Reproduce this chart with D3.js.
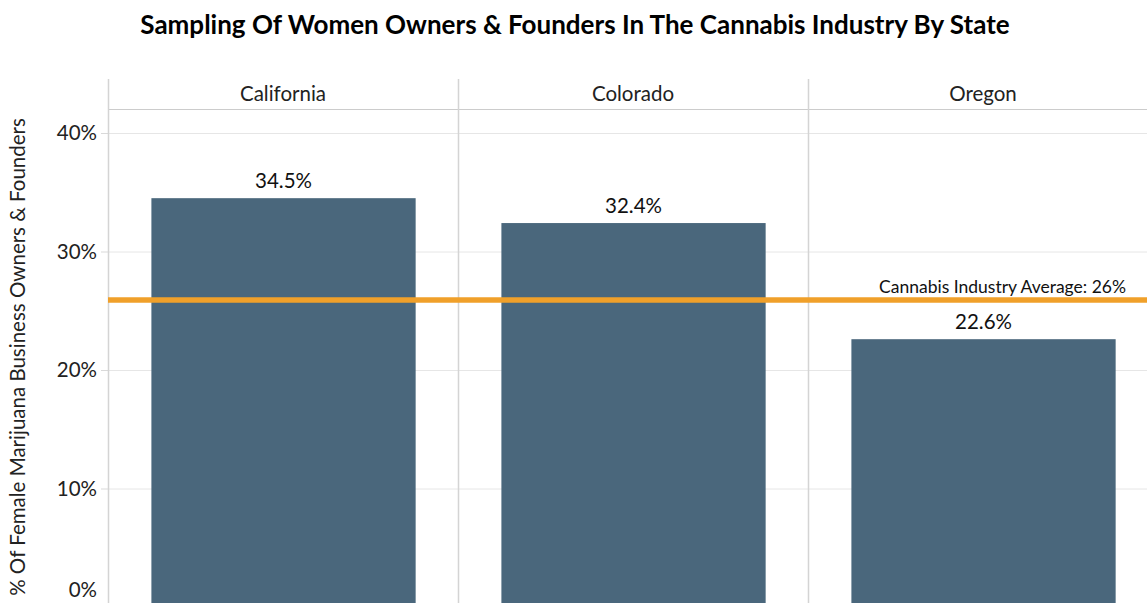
<!DOCTYPE html>
<html>
<head>
<meta charset="utf-8">
<script src="https://cdn.jsdelivr.net/npm/d3@7"></script>
<style>
  body { margin: 0; background: #fff; }
  svg { display: block; font-family: Lato, "Open Sans", sans-serif; }
</style>
</head>
<body>
<svg id="chart" width="1147" height="603"></svg>
<script>
const states = ["California", "Colorado", "Oregon"];
const shares = [34.5, 32.4, 22.6];
const yTicks = [0, 10, 20, 30, 40];
const industryAverage = 26;
const averageLabel = "Cannabis Industry Average: 26%";

const chartWidth = 1147;
const chartHeight = 603;
const plotLeft = 108;
const plotTop = 133;
const headerTop = 79;
const headerBottom = 110;
const plotBottom = 607;

const svg = d3.select("#chart");

const x = d3.scaleBand().domain(states).range([plotLeft, plotLeft + 350 * 3]).padding(0);
const y = d3.scaleLinear().domain([0, 40]).range([plotBottom, plotTop]);
const barPad = x.bandwidth() * 0.124;
const barWidth = x.bandwidth() * 0.755;

// title
svg.append("text")
  .attr("x", 575).attr("y", 34)
  .attr("text-anchor", "middle")
  .attr("font-size", 26).attr("font-weight", "bold")
  .attr("fill", "#000")
  .text("Sampling Of Women Owners & Founders In The Cannabis Industry By State");

// gridlines
svg.append("g").selectAll("line").data(yTicks.filter((t) => t > 0)).enter().append("line")
  .attr("x1", plotLeft).attr("x2", chartWidth)
  .attr("y1", (d) => y(d) + 0.5).attr("y2", (d) => y(d) + 0.5)
  .attr("stroke", "#e6e6e6").attr("stroke-width", 1);

// y axis ticks and labels (bottom label kept inside the frame)
svg.append("g").selectAll("line").data(yTicks).enter().append("line")
  .attr("x1", plotLeft - 7).attr("x2", plotLeft)
  .attr("y1", (d) => y(d) + 0.5).attr("y2", (d) => y(d) + 0.5)
  .attr("stroke", "#d9d9d9");
svg.append("g").selectAll("text").data(yTicks).enter().append("text")
  .attr("x", plotLeft - 11).attr("y", (d) => Math.min(y(d) + 7, chartHeight - 6))
  .attr("text-anchor", "end").attr("font-size", 20.5).attr("fill", "#222")
  .text((d) => `${d}%`);

svg.append("text")
  .attr("transform", `translate(25,${357}) rotate(-90)`)
  .attr("text-anchor", "middle").attr("font-size", 20.5).attr("fill", "#222")
  .text("% Of Female Marijuana Business Owners & Founders");

// header row
svg.append("line").attr("x1", plotLeft).attr("x2", chartWidth)
  .attr("y1", headerBottom - 0.5).attr("y2", headerBottom - 0.5)
  .attr("stroke", "#cccccc");
svg.append("g").selectAll("text").data(states).enter().append("text")
  .attr("x", (d) => x(d) + x.bandwidth() / 2).attr("y", 101)
  .attr("text-anchor", "middle").attr("font-size", 20.5).attr("fill", "#222")
  .text((d) => d);

// panel dividers
svg.append("g").selectAll("line").data(states).enter().append("line")
  .attr("x1", (d) => x(d) + 0.5).attr("x2", (d) => x(d) + 0.5)
  .attr("y1", headerTop).attr("y2", chartHeight)
  .attr("stroke", "#d4d4d4").attr("stroke-width", 1.5);

// bars
const data = states.map((s, i) => ({ state: s, value: shares[i] }));
svg.append("g").selectAll("rect").data(data).enter().append("rect")
  .attr("x", (d) => x(d.state) + barPad)
  .attr("width", barWidth)
  .attr("y", (d) => y(d.value))
  .attr("height", (d) => plotBottom - y(d.value))
  .attr("fill", "#4a677c");

svg.append("g").selectAll("text").data(data).enter().append("text")
  .attr("x", (d) => x(d.state) + barPad + barWidth / 2)
  .attr("y", (d) => y(d.value) - 10)
  .attr("text-anchor", "middle").attr("font-size", 20.5).attr("fill", "#111")
  .text((d) => `${d.value}%`);

// reference line
svg.append("line")
  .attr("x1", plotLeft).attr("x2", chartWidth)
  .attr("y1", y(industryAverage) + 1).attr("y2", y(industryAverage) + 1)
  .attr("stroke", "#f0a02a").attr("stroke-width", 5.5);
svg.append("text")
  .attr("x", 1126).attr("y", y(industryAverage) - 6)
  .attr("text-anchor", "end").attr("font-size", 17.5).attr("fill", "#111")
  .text(averageLabel);
</script>
</body>
</html>
